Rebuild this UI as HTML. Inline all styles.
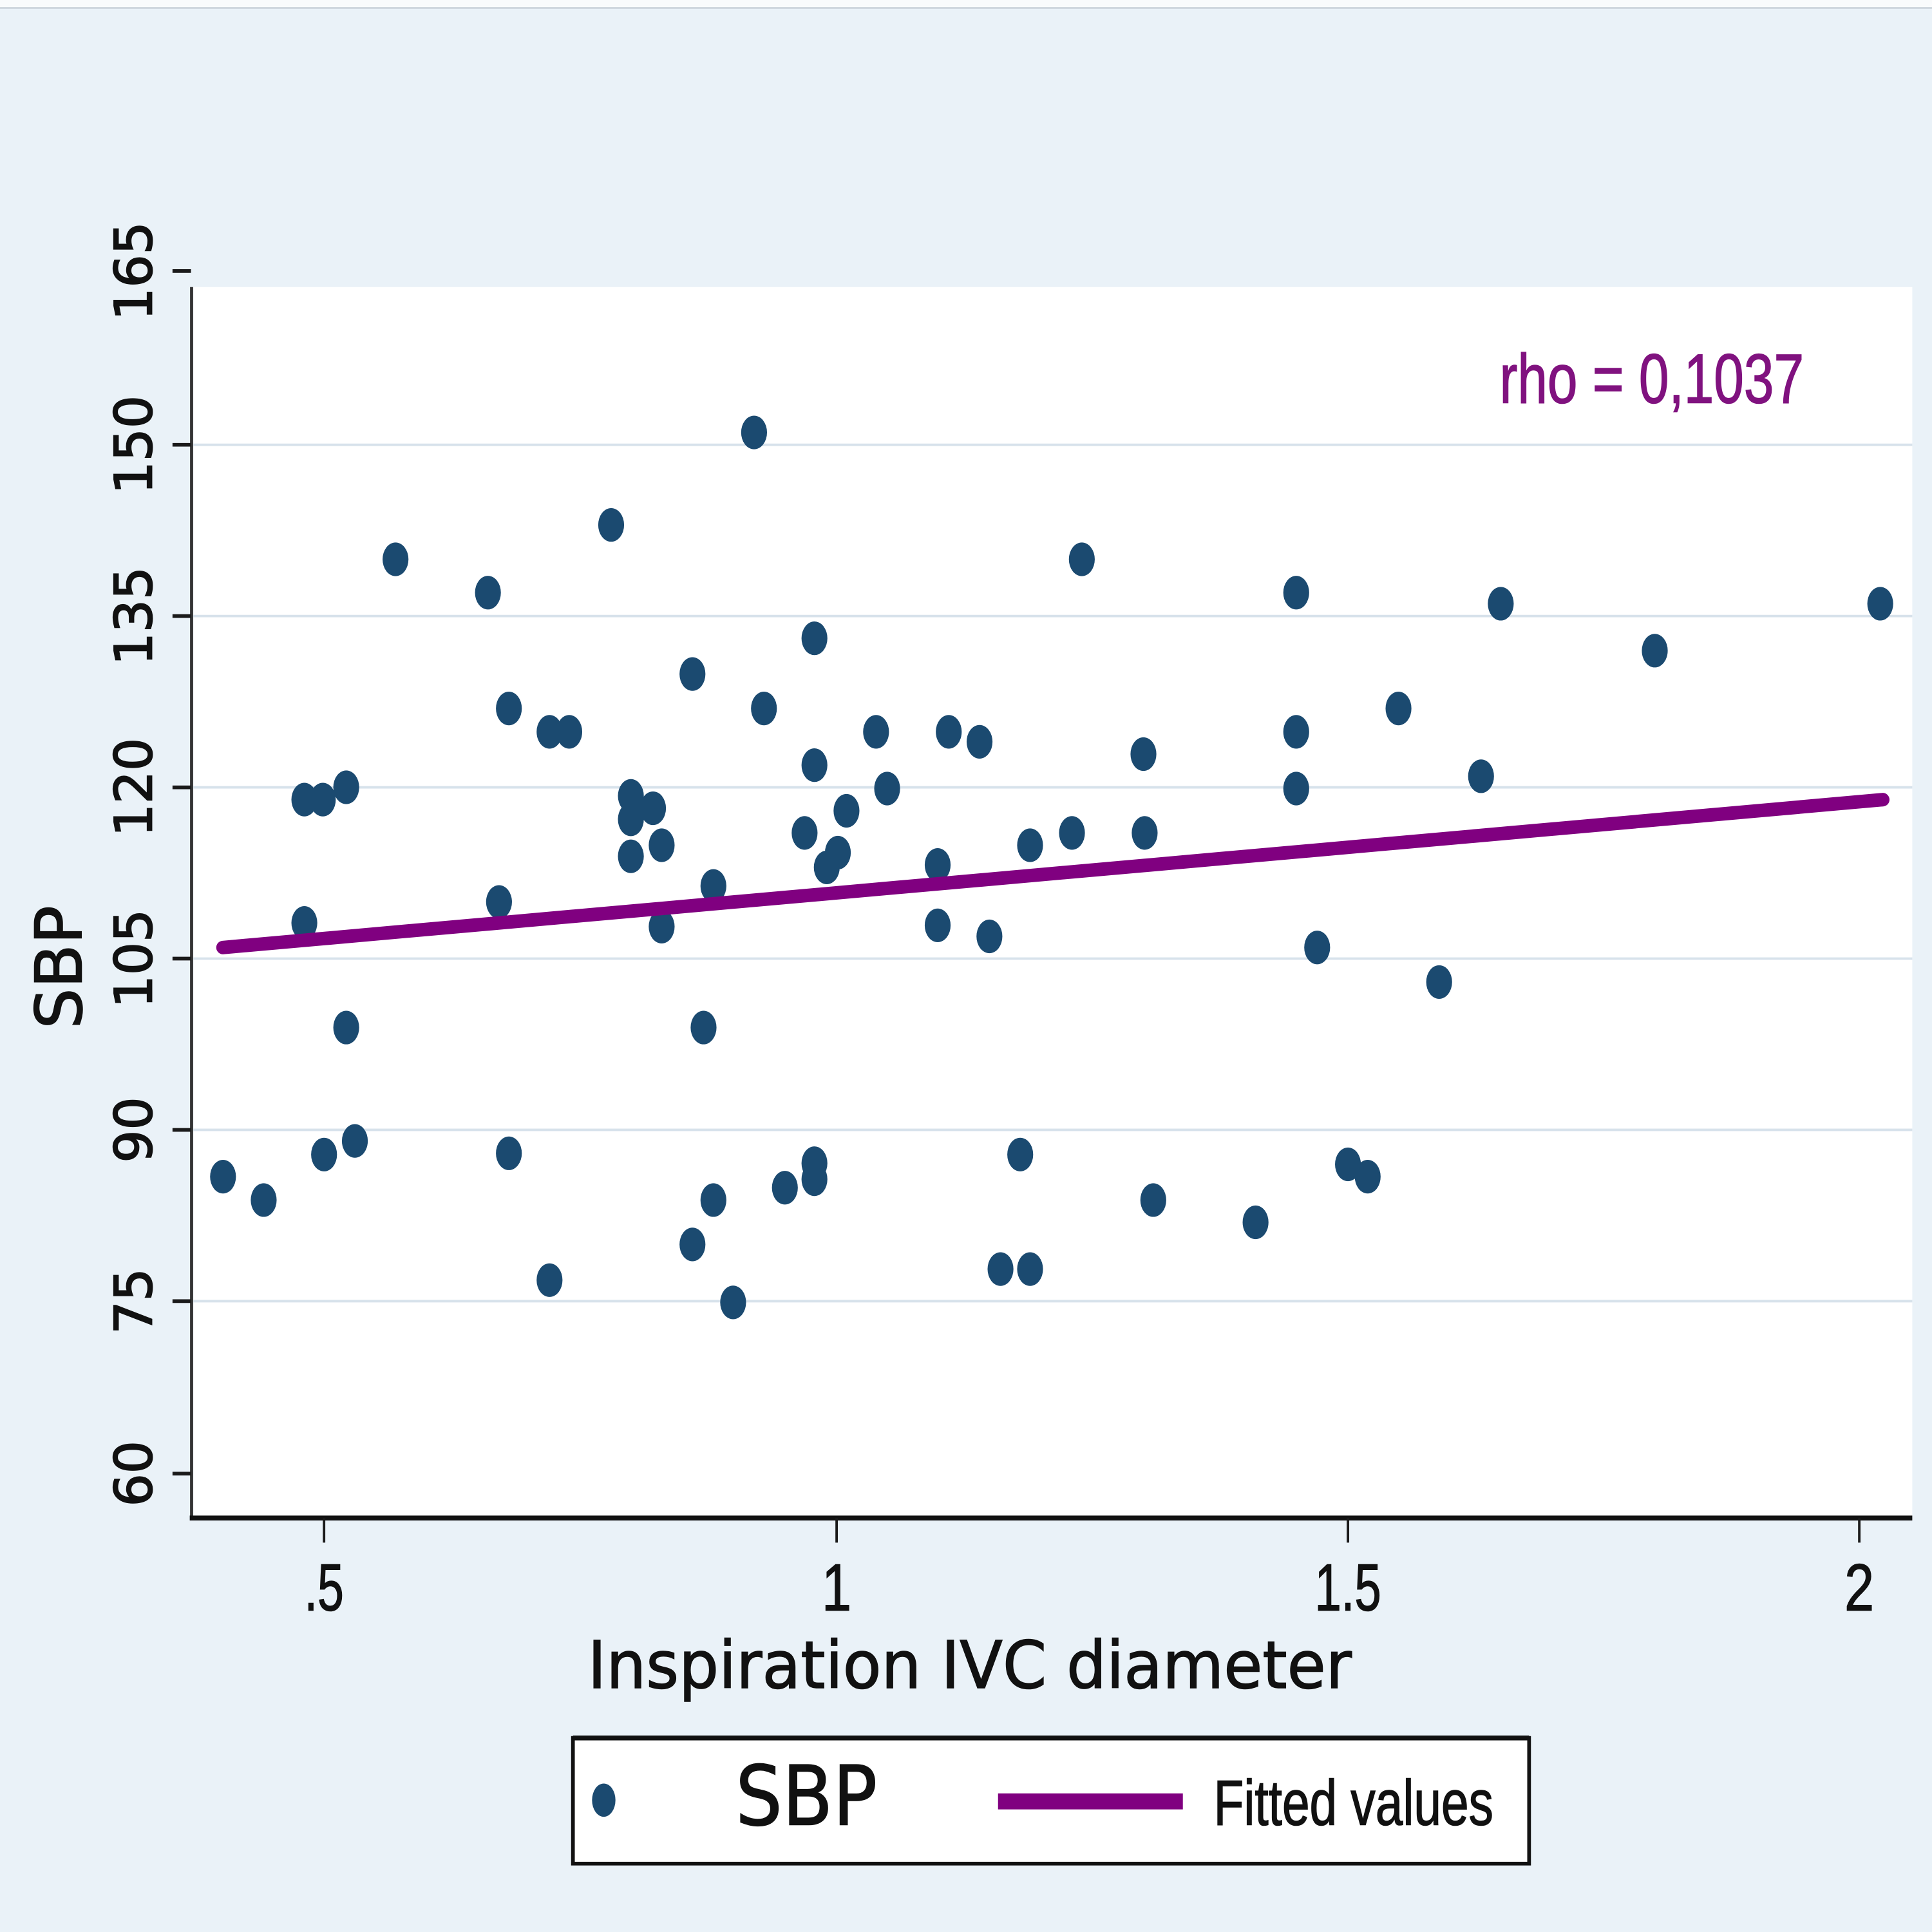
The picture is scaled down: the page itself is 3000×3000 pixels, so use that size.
<!DOCTYPE html>
<html>
<head>
<meta charset="utf-8">
<style>
html,body{margin:0;padding:0;background:#eaf2f8;overflow:hidden;}
svg{display:block;}
</style>
</head>
<body>
<svg width="3000" height="3000" viewBox="0 0 1568 1568" xmlns="http://www.w3.org/2000/svg">
  <rect x="0" y="0" width="1568" height="1568" fill="#eaf2f8"/>
  <rect x="0" y="0" width="1568" height="6" fill="#f9fbfc"/>
  <line x1="0" y1="6.5" x2="1568" y2="6.5" stroke="#cfd7de" stroke-width="1.5"/>

  <rect x="157" y="233" width="1395" height="999" fill="#ffffff"/>

  <path d="M157 361H1552M157 500H1552M157 639H1552M157 778H1552M157 917H1552M157 1056H1552" stroke="#d7e2eb" stroke-width="2" fill="none"/>

  <line x1="155.5" y1="233" x2="155.5" y2="1233" stroke="#333" stroke-width="2.5"/>
  <line x1="154" y1="1232" x2="1552" y2="1232" stroke="#111" stroke-width="4"/>

  <path d="M140 220H155M140 361H155M140 500H155M140 639H155M140 778H155M140 917H155M140 1056H155M140 1196H155" stroke="#1a1a1a" stroke-width="3" fill="none"/>
  <path d="M263 1232V1252M679 1232V1252M1094 1232V1252M1509 1232V1252" stroke="#1a1a1a" stroke-width="2" fill="none"/>

  <g font-family="'DejaVu Sans', 'Liberation Sans', sans-serif" font-size="42" fill="#111" stroke="#111" stroke-width="1" text-anchor="middle">
    <text transform="translate(123,220) rotate(-90)">165</text>
    <text transform="translate(123,361) rotate(-90)">150</text>
    <text transform="translate(123,500) rotate(-90)">135</text>
    <text transform="translate(123,639) rotate(-90)">120</text>
    <text transform="translate(123,778) rotate(-90)">105</text>
    <text transform="translate(123,917) rotate(-90)">90</text>
    <text transform="translate(123,1056) rotate(-90)">75</text>
    <text transform="translate(123,1196) rotate(-90)">60</text>
  </g>

  <text transform="translate(66,785) rotate(-90)" font-family="'DejaVu Sans', 'Liberation Sans', sans-serif" font-size="52" fill="#111" stroke="#111" stroke-width="0.8" text-anchor="middle">SBP</text>

  <g font-family="'Liberation Sans', sans-serif" font-size="54" fill="#111" stroke="#111" stroke-width="0.8" text-anchor="middle">
    <text x="263" y="1307" textLength="32" lengthAdjust="spacingAndGlyphs">.5</text>
    <text x="679" y="1307" textLength="24" lengthAdjust="spacingAndGlyphs">1</text>
    <text x="1094" y="1307" textLength="54" lengthAdjust="spacingAndGlyphs">1.5</text>
    <text x="1509" y="1307" textLength="24" lengthAdjust="spacingAndGlyphs">2</text>
  </g>

  <text x="787" y="1370" font-family="'DejaVu Sans', 'Liberation Sans', sans-serif" font-size="53" fill="#111" stroke="#111" stroke-width="0.8" text-anchor="middle" textLength="620" lengthAdjust="spacingAndGlyphs">Inspiration IVC diameter</text>

  <g transform="scale(1,1.3)">
    <path fill="none" stroke="#1b4a70" stroke-width="21" stroke-linecap="round" d="M612 270h0.01M496 327.7h0.01M321 349.2h0.01M878 349.2h0.01M396 370h0.01M1052 370h0.01M1218 376.9h0.01M1526 376.9h0.01M661 398.5h0.01M1343 406.2h0.01M562 420.8h0.01M413 442.3h0.01M620 442.3h0.01M1135 442.3h0.01M446 456.9h0.01M462 456.9h0.01M711 456.9h0.01M770 456.9h0.01M795 463.1h0.01M1052 456.9h0.01M928 470.8h0.01M661 477.7h0.01M1202 484.6h0.01M281 491.5h0.01M247 499.2h0.01M262 499.2h0.01M720 492.3h0.01M1052 492.3h0.01M512 496.9h0.01M530 504.6h0.01M512 511.5h0.01M687 506.2h0.01M653 520h0.01M870 520h0.01M929 520h0.01M537 527.7h0.01M836 527.7h0.01M512 534.6h0.01M680 532.3h0.01M671 541.5h0.01M761 540h0.01M579 553.1h0.01M405 563.1h0.01M247 576.2h0.01M537 578.5h0.01M761 577.7h0.01M803 584.6h0.01M1069 591.5h0.01M1168 613.1h0.01M281 641.5h0.01M571 641.5h0.01M288 712.3h0.01M263 720.8h0.01M413 720h0.01M828 720.8h0.01M661 726.2h0.01M1094 726.9h0.01M181 734.6h0.01M661 736.2h0.01M1110 734.6h0.01M637 741.5h0.01M214 749.2h0.01M579 749.2h0.01M936 749.2h0.01M1019 763.1h0.01M562 776.9h0.01M446 799.2h0.01M812 792.3h0.01M836 792.3h0.01M595 813.1h0.01"/>
  </g>

  <line x1="181" y1="769" x2="1528" y2="649" stroke="#800080" stroke-width="11" stroke-linecap="round"/>

  <text x="1217" y="327" font-family="'Liberation Sans', sans-serif" font-size="57" fill="#80127f" stroke="#80127f" stroke-width="0.8" textLength="247" lengthAdjust="spacingAndGlyphs">rho = 0,1037</text>

  <rect x="465" y="1410.5" width="776" height="102" fill="#ffffff" stroke="#111" stroke-width="3"/>
  <line x1="465" y1="1410.5" x2="1241" y2="1410.5" stroke="#111" stroke-width="4"/>
  <ellipse cx="490" cy="1461" rx="9.5" ry="13.5" fill="#1b4a70"/>
  <text x="597" y="1481" font-family="'DejaVu Sans', 'Liberation Sans', sans-serif" font-size="67" fill="#111" stroke="#111" stroke-width="0.8" textLength="115" lengthAdjust="spacingAndGlyphs">SBP</text>
  <line x1="810" y1="1462" x2="960" y2="1462" stroke="#800080" stroke-width="13"/>
  <text x="985" y="1481" font-family="'Liberation Sans', sans-serif" font-size="52" fill="#111" stroke="#111" stroke-width="0.8" textLength="227" lengthAdjust="spacingAndGlyphs">Fitted values</text>
</svg>
</body>
</html>
